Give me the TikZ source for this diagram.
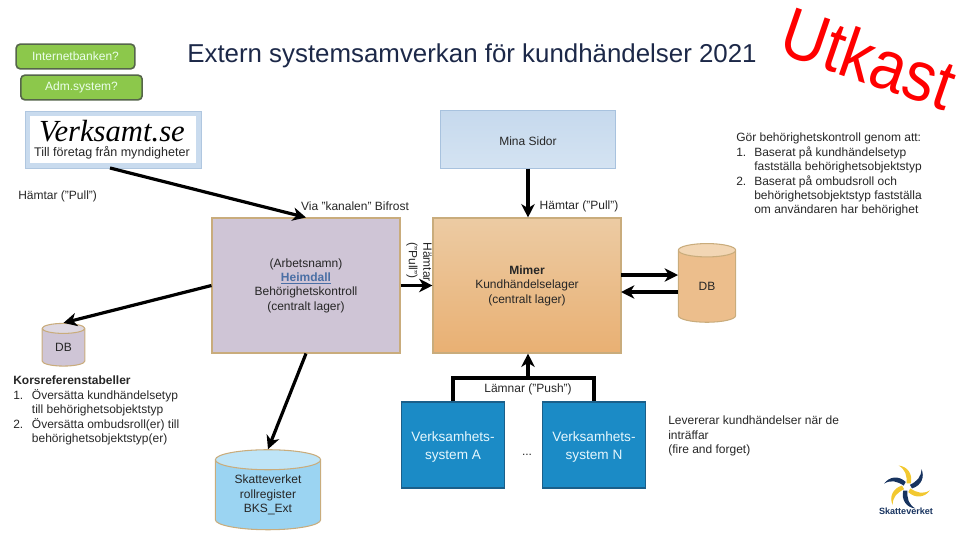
\documentclass[tikz,border=0pt]{standalone}
\usepackage{fontspec}
\usepackage{graphicx}
\setmainfont{Liberation Sans}
\newfontfamily\logoserif{Liberation Serif}
\usetikzlibrary{arrows.meta,shapes.geometric}
\definecolor{tan}{HTML}{C9AC7C}
\definecolor{navy}{HTML}{17335F}
\definecolor{gold}{HTML}{F2C830}
\definecolor{btnfill}{HTML}{8CC84B}
\definecolor{btnline}{HTML}{55654A}
\definecolor{vfill}{HTML}{1B8BC6}
\definecolor{vline}{HTML}{1A5F8A}
\newcommand{\bodyfont}{\fontsize{9}{10.8}\selectfont}
\tikzset{
  conn/.style={line width=2.4pt,-{Stealth[length=10pt,width=10pt,inset=3pt]}},
  plain/.style={line width=2.4pt},
  lbl/.style={font=\bodyfont,align=center,inner sep=0pt,text=black!85},
  note/.style={font=\bodyfont,align=left,inner sep=0pt,anchor=north west,text=black!85},
  btn/.style={draw=btnline,line width=1.2pt,rounded corners=3pt,fill=btnfill,inner sep=0pt,font=\bodyfont,text=white!92!green},
  lager/.style={draw=tan,line width=0.8pt,inner sep=0pt,font=\bodyfont,align=center,text=black!85},
  vsys/.style={draw=vline,line width=1.4pt,fill=vfill,inner sep=0pt,font=\fontsize{10.2}{13}\selectfont,align=center,text=white!90!cyan,minimum width=77.25pt,minimum height=64.5pt},
  cyl/.style={shape=cylinder,shape border rotate=90,draw=tan,line width=0.8pt,inner sep=0pt,cylinder uses custom fill,font=\bodyfont,align=center,text=black!85}
}
\begin{document}
\begin{tikzpicture}[x=0.75pt,y=-0.75pt]
\useasboundingbox (0,0) rectangle (960,540);
% title
\node[inner sep=0pt,text={rgb,255:red,28;green,40;blue,72},font=\fontsize{19.4}{22}\selectfont] (title) at (472,56) {Extern systemsamverkan för kundhändelser 2021};
\node[inner sep=0pt,rotate=-19,font=\fontsize{53}{56}\selectfont,text=red] (utkast) at (869,58) {\scalebox{0.89}[1]{Utkast}};
% buttons
\node[btn,minimum width=89pt,minimum height=18.5pt] (inet) at (75.5,56.5) {Internetbanken?};
\node[btn,minimum width=91pt,minimum height=18.5pt] (adm) at (81.5,87.5) {Adm.system?};
% logo
\node[draw={rgb,255:red,176;green,199;blue,224},fill={rgb,255:red,201;green,219;blue,238},minimum width=132pt,minimum height=43pt,inner sep=0pt] (logo) at (113,139.5) {};
\node[fill=white,minimum width=124pt,minimum height=35pt,inner sep=0pt] (logoin) at (113,139.5) {};
\node[inner sep=0pt,font=\fontsize{23}{23}\selectfont\logoserif\itshape,text=black] (logot) at (112,131) {Verksamt.se};
\node[inner sep=0pt,font=\fontsize{9.4}{10}\selectfont,text=black!85] (logos) at (112,153) {Till företag från myndigheter};
% boxes
\node[lager,fill={rgb,255:red,207;green,197;blue,214},minimum width=141pt,minimum height=101.25pt] (heim) at (306,285.5) {(Arbetsnamn)\\{\color[HTML]{4A6FA5}\textbf{\underline{Heimdall}}}\\Behörighetskontroll\\(centralt lager)};
\node[lager,top color={rgb,255:red,236;green,203;blue,163},bottom color={rgb,255:red,233;green,176;blue,115},minimum width=141pt,minimum height=101.25pt] (mimer) at (527,285.5) {\textbf{Mimer}\\Kundhändelselager\\(centralt lager)};
\node[lager,draw={rgb,255:red,168;green,194;blue,222},top color={rgb,255:red,198;green,217;blue,237},bottom color={rgb,255:red,212;green,227;blue,242},minimum width=131pt,minimum height=43pt] (mina) at (528,139.5) {\rule{0pt}{9.5pt}Mina Sidor};
\node[vsys] (va) at (453,445) {\rule{0pt}{10.5pt}Verksamhets-\\system A};
\node[vsys] (vn) at (594,445) {\rule{0pt}{10.5pt}Verksamhets-\\system N};
% cylinders
\node[cyl,cylinder body fill={rgb,255:red,207;green,197;blue,214},cylinder end fill={rgb,255:red,222;green,216;blue,226},minimum width=32pt,minimum height=32pt,aspect=0.6] (dbs) at (63.5,347.5) {DB};
\node[cyl,cylinder body fill={rgb,255:red,155;green,212;blue,242},cylinder end fill={rgb,255:red,190;green,228;blue,247},minimum width=79pt,minimum height=60pt,aspect=0.3] (skv) at (268,495) {Skatteverket\\rollregister\\BKS\_Ext};
\node[cyl,cylinder body fill={rgb,255:red,236;green,190;blue,140},cylinder end fill={rgb,255:red,242;green,214;blue,180},minimum width=43pt,minimum height=59pt,aspect=0.8] (dbm) at (707,286.5) {DB};
% connectors
\coordinate (logob) at (110,168);
\coordinate (ml1) at (621,275);
\coordinate (ml2) at (621,292);
\coordinate (dr1) at (678,275);
\coordinate (dr2) at (678,292);
\coordinate (busm) at (528,378);
\draw[conn] (logob) -- (heim.north);
\draw[conn] (mina.south) -- (mimer.north -| mina.south);
\draw[conn] (heim.west) -- (dbs.north);
\draw[conn] (heim.south) -- (skv.north);
\draw[conn] (heim.east) -- (mimer.west);
\draw[conn] (ml1) -- (dr1);
\draw[conn] (dr2) -- (ml2);
\draw[plain] (va.north) |- (busm) -| (vn.north);
\draw[conn] (busm) -- (mimer.south -| busm);
% labels
\node[lbl,anchor=west] (t1) at (18,196) {Hämtar ("Pull")};
\node[lbl] (t2) at (355,206) {Via "kanalen" Bifrost};
\node[lbl] (t3) at (579,206) {Hämtar ("Pull")};
\node[lbl,rotate=-90,align=left] (t4) at (419,262) {Hämtar\\("Pull")};
\node[lbl] (t5) at (528,389) {Lämnar ("Push")};
\node[lbl] (t6) at (527,455) {...};
\node[note] (n1) at (736,133) {Gör behörighetskontroll genom att:\\
\makebox[13.5pt][l]{1.}Baserat på kundhändelsetyp\\
\hspace*{13.5pt}fastställa behörighetsobjektstyp\\
\makebox[13.5pt][l]{2.}Baserat på ombudsroll och\\
\hspace*{13.5pt}behörighetsobjektstyp fastställa\\
\hspace*{13.5pt}om användaren har behörighet};
\node[note] (n2) at (13,376) {\textbf{Korsreferenstabeller}\\
\makebox[14pt][l]{1.}Översätta kundhändelsetyp\\
\hspace*{14pt}till behörighetsobjektstyp\\
\makebox[14pt][l]{2.}Översätta ombudsroll(er) till\\
\hspace*{14pt}behörighetsobjektstyp(er)};
\node[note] (n3) at (668,416) {Levererar kundhändelser när de\\inträffar\\(fire and forget)};
% Skatteverket logo
\foreach \a/\c in {0/navy,60/gold,120/navy,180/gold,240/navy,300/gold}{
  \begin{scope}[shift={(907,487)},rotate=\a,scale=0.72]
    \fill[\c] (4,-3) .. controls (14,-8) and (20,-14) .. (20,-25) .. controls (25,-14) and (20,-2) .. (7,2) -- cycle;
  \end{scope}
}
\node[inner sep=0pt,font=\fontsize{6.8}{8}\selectfont\bfseries,text=navy] (skvlogo) at (906,511.5) {Skatteverket};
\end{tikzpicture}
\end{document}
